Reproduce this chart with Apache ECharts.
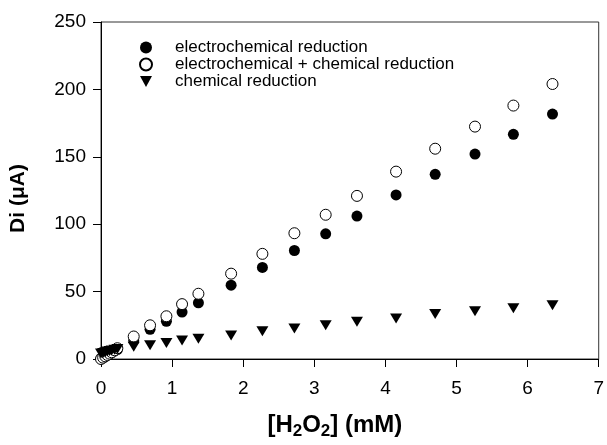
<!DOCTYPE html>
<html>
<head>
<meta charset="utf-8">
<script src="https://cdn.jsdelivr.net/npm/echarts@6/dist/echarts.min.js"></script>
<style>
  html, body { margin: 0; padding: 0; background: #fff; }
  #chart { width: 607px; height: 445px; }
</style>
</head>
<body>
<div id="chart"></div>
<script>
// [H2O2] in mM
const conc = [0, 0.03, 0.06, 0.09, 0.12, 0.15, 0.19, 0.23, 0.46, 0.69, 0.92, 1.14, 1.37,
  1.83, 2.27, 2.72, 3.16, 3.6, 4.15, 4.7, 5.26, 5.8, 6.35]
// Di in uA
const electroReduction = [0.5, 1.2, 2, 3, 3.8, 4.6, 5.8, 7, 13.8, 22, 28, 34.8, 41.7,
  54.8, 67.9, 80.5, 92.9, 106, 121.7, 137, 152, 166.7, 181.7]
const electroChemReduction = [0, 1, 2, 3, 4, 5, 6.5, 8, 16.7, 25, 31.7, 40.7, 48.4,
  63.3, 78, 93.3, 107, 121, 139, 156, 172.4, 188, 204]
const chemReduction = [4, 4.5, 5, 5.5, 6, 6.3, 6.8, 7.5, 9, 10.2, 11.9, 13.8, 15,
  17.4, 20.5, 22.6, 25, 27.6, 30, 33.3, 35.5, 37.6, 39.8]
const seriesNames = ['electrochemical reduction', 'electrochemical + chemical reduction', 'chemical reduction']

const font = "'Liberation Sans', Arial, sans-serif"
const downTriangle = 'path://M0,0 L10,0 L5,9 Z'

const toPoints = (ys) => conc.map((x, i) => [x, ys[i]])

const chart = echarts.init(document.getElementById('chart'), null, { renderer: 'canvas' })

const option = {
  animation: false,
  grid: {
    left: 96,
    right: 5,
    top: 22,
    bottom: 72,
    show: true,
    borderColor: '#333',
    borderWidth: 1
  },
  legend: {
    orient: 'vertical',
    left: 134,
    top: 34,
    itemWidth: 12,
    itemHeight: 12,
    itemGap: 0,
    textStyle: {
      fontFamily: font,
      fontSize: 17,
      lineHeight: 17,
      color: '#000',
      padding: [0, 0, 0, 18]
    },
    data: [
      { name: seriesNames[0], icon: 'circle' },
      { name: seriesNames[1], icon: 'circle' },
      { name: seriesNames[2], icon: downTriangle }
    ]
  },
  xAxis: {
    type: 'value',
    min: 0,
    max: 7,
    interval: 1,
    name: '{n|[H}{s|2}{n|O}{s|2}{n|] (mM)}',
    nameLocation: 'middle',
    nameGap: 52,
    nameTextStyle: {
      padding: [0, 30, 0, 0],
      rich: {
        n: { fontFamily: font, fontSize: 24, fontWeight: 'bold', color: '#000' },
        s: { fontFamily: font, fontSize: 17, fontWeight: 'bold', color: '#000', padding: [12, 0, 0, 0] }
      }
    },
    axisLine: { lineStyle: { color: '#000', width: 1 } },
    axisTick: { inside: false, length: 8, lineStyle: { color: '#000' } },
    axisLabel: { fontFamily: font, fontSize: 19, color: '#000', margin: 20 },
    splitLine: { show: false }
  },
  yAxis: {
    type: 'value',
    min: 0,
    max: 250,
    interval: 50,
    name: 'Di (\u03bcA)',
    nameLocation: 'middle',
    nameGap: 72,
    nameTextStyle: {
      fontFamily: font,
      fontSize: 21,
      fontWeight: 'bold',
      color: '#000',
      padding: [0, 16, 0, 0]
    },
    axisLine: { show: true, lineStyle: { color: '#000', width: 1 } },
    axisTick: { show: true, inside: false, length: 8, lineStyle: { color: '#000' } },
    axisLabel: { fontFamily: font, fontSize: 19, color: '#000', margin: 15 },
    splitLine: { show: false }
  },
  series: [
    {
      name: seriesNames[0],
      type: 'scatter',
      symbol: 'circle',
      symbolSize: 11,
      itemStyle: { color: '#000', opacity: 1 },
      data: toPoints(electroReduction)
    },
    {
      name: seriesNames[1],
      type: 'scatter',
      symbol: 'circle',
      symbolSize: 11,
      itemStyle: { color: '#fff', borderColor: '#000', borderWidth: 1, opacity: 1 },
      data: toPoints(electroChemReduction)
    },
    {
      name: seriesNames[2],
      type: 'scatter',
      symbol: downTriangle,
      symbolSize: [12, 10],
      itemStyle: { color: '#000', opacity: 1 },
      data: toPoints(chemReduction)
    }
  ]
}

chart.setOption(option)
</script>
</body>
</html>
